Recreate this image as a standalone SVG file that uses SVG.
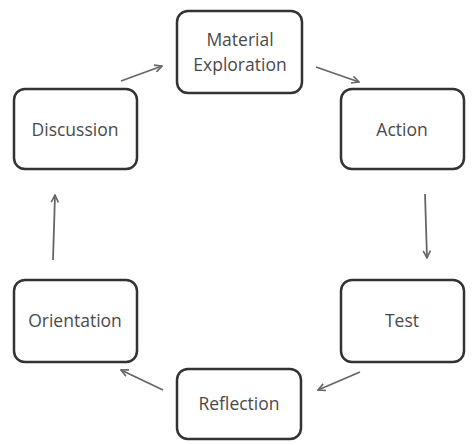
<svg xmlns="http://www.w3.org/2000/svg" width="474" height="445" viewBox="0 0 474 445">
<style>
.box{fill:#fff;stroke:#333;stroke-width:2.5}
.lbl{font-family:"Open Sans","Liberation Sans",sans-serif;font-size:17.5px;fill:#4a4a4a;text-anchor:middle;dominant-baseline:central}
.con{stroke:#666;stroke-width:1.8;fill:none;marker-end:url(#ah)}
</style>
<defs>
<marker id="ah" viewBox="0 0 10 10" refX="9" refY="5" markerWidth="9" markerHeight="9" markerUnits="userSpaceOnUse" orient="auto">
<path d="M1,1 L9,5 L1,9" fill="none" stroke="#666" stroke-width="1.8"/>
</marker>
</defs>
<rect width="474" height="445" fill="#fff"/>
<g id="material"><rect class="box" x="177" y="11" width="125" height="82" rx="11"/><text class="lbl" x="240" y="39">Material</text><text class="lbl" x="240" y="64">Exploration</text></g>
<g id="action"><rect class="box" x="341" y="89" width="123" height="80" rx="11"/><text class="lbl" x="402" y="129">Action</text></g>
<g id="test"><rect class="box" x="341" y="280" width="123" height="82" rx="11"/><text class="lbl" x="402" y="320">Test</text></g>
<g id="reflection"><rect class="box" x="177" y="369" width="124" height="70" rx="11"/><text class="lbl" x="239" y="403">Reflection</text></g>
<g id="orientation"><rect class="box" x="14" y="280" width="123" height="82" rx="11"/><text class="lbl" x="75" y="320">Orientation</text></g>
<g id="discussion"><rect class="box" x="14" y="89" width="123" height="80" rx="11"/><text class="lbl" x="75" y="129">Discussion</text></g>
<g id="connectors">
<line class="con" x1="121" y1="81" x2="162" y2="66"/>
<line class="con" x1="316" y1="67" x2="359" y2="82"/>
<line class="con" x1="425" y1="194" x2="427" y2="258"/>
<line class="con" x1="360" y1="372" x2="318" y2="390"/>
<line class="con" x1="163" y1="390" x2="121" y2="370"/>
<line class="con" x1="53" y1="260" x2="55" y2="195"/>
</g>
</svg>
